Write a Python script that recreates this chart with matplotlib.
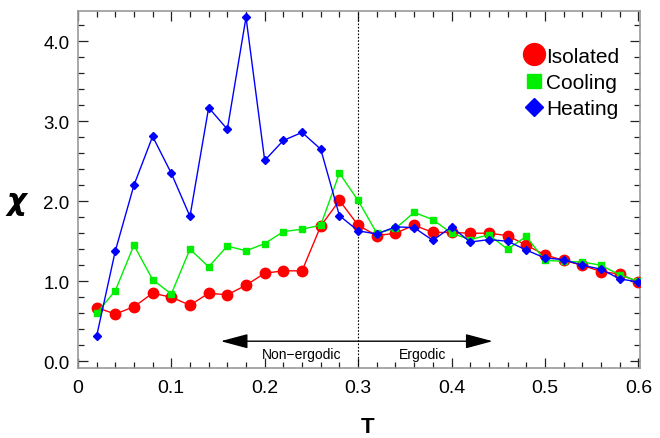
import matplotlib
matplotlib.use("Agg")
import matplotlib.pyplot as plt
from matplotlib.patches import FancyArrowPatch

T = [0.02, 0.04, 0.06, 0.08, 0.10, 0.12, 0.14, 0.16, 0.18, 0.20,
     0.22, 0.24, 0.26, 0.28, 0.30, 0.32, 0.34, 0.36, 0.38, 0.40,
     0.42, 0.44, 0.46, 0.48, 0.50, 0.52, 0.54, 0.56, 0.58, 0.60]

isolated = [0.67, 0.59, 0.68, 0.85, 0.80, 0.70, 0.85, 0.83, 0.95, 1.10,
            1.13, 1.13, 1.69, 2.01, 1.70, 1.57, 1.60, 1.70, 1.61, 1.61,
            1.60, 1.60, 1.57, 1.45, 1.33, 1.26, 1.20, 1.12, 1.09, 0.99]

cooling = [0.60, 0.88, 1.45, 1.02, 0.84, 1.40, 1.18, 1.44, 1.38, 1.47,
           1.62, 1.65, 1.70, 2.35, 2.01, 1.60, 1.66, 1.86, 1.77, 1.60,
           1.52, 1.58, 1.40, 1.56, 1.26, 1.25, 1.24, 1.20, 1.08, 1.00]

heating = [0.31, 1.375, 2.20, 2.81, 2.35, 1.81, 3.17, 2.90, 4.30, 2.51,
           2.76, 2.86, 2.65, 1.82, 1.63, 1.59, 1.68, 1.67, 1.51, 1.68,
           1.49, 1.52, 1.50, 1.39, 1.29, 1.27, 1.20, 1.15, 1.03, 0.99]

xticks = [0, 0.1, 0.2, 0.3, 0.4, 0.5, 0.6]
xticklabels = ["0", "0.1", "0.2", "0.3", "0.4", "0.5", "0.6"]
yticks = [0, 1, 2, 3, 4]
yticklabels = ["0.0", "1.0", "2.0", "3.0", "4.0"]

plt.rcParams['font.family'] = ['Liberation Sans', 'DejaVu Sans']

fig = plt.figure(figsize=(6.6, 4.39), dpi=100)
ax = fig.add_axes([0.118, 0.159, 0.852, 0.814])

ax.plot(T, isolated, '-', color='#ff0000', lw=1.0, marker='o', ms=7.5,
        mec='#ff0000', mfc='#ff0000', label='Isolated', zorder=3)
ax.plot(T, cooling, '-', color='#00ee00', lw=1.0, marker='s', ms=5,
        mec='#00ee00', mfc='#00ee00', label='Cooling', zorder=4)
ax.plot(T, heating, '-', color='#0000ff', lw=1.0, marker='D', ms=4.5,
        mec='#0000ff', mfc='#0000ff', label='Heating', zorder=5)

ax.axvline(0.3, color='black', ls=(0, (1.5, 1.5)), lw=0.8, zorder=2)

arrow = FancyArrowPatch((0.15, 0.25), (0.447, 0.25),
                        arrowstyle='<|-|>,head_length=1.2,head_width=0.32',
                        mutation_scale=14, color='black', lw=1.0, zorder=6)
ax.add_patch(arrow)
ax.text(0.239, 0.09, "Non\u2212ergodic", ha='center', va='center', fontsize=10)
ax.text(0.369, 0.09, "Ergodic", ha='center', va='center', fontsize=10)

ax.set_xlim(0, 0.602)
ax.set_ylim(-0.0875, 4.38)
ax.set_xticks(xticks)
ax.set_xticklabels(xticklabels)
ax.set_yticks(yticks)
ax.set_yticklabels(yticklabels)
ax.set_xticks([i * 0.02 for i in range(31)], minor=True)
ax.set_yticks([i * 0.2 for i in range(22)], minor=True)

ax.tick_params(which='both', direction='in', top=True, right=True, color='#222222')
ax.tick_params(which='major', length=7.5, width=0.9)
ax.tick_params(which='minor', length=4, width=0.9)
ax.tick_params(axis='x', which='major', labelsize=14, pad=8)
ax.tick_params(axis='y', which='major', labelsize=13.5, pad=6)
ax.tick_params(which='both', labeltop=False, labelright=False)

for s in ax.spines.values():
    s.set_color('#999999')
    s.set_linewidth(1.2)

ax.set_xlabel("T", fontsize=16, fontweight='bold')
ax.xaxis.set_label_coords(0.515, -0.135)
ax.set_ylabel("\u03c7", fontsize=22, fontweight='bold', fontstyle='italic',
              rotation=0, va='center', family=['DejaVu Sans'])
ax.yaxis.set_label_coords(-0.11, 0.47)

leg = ax.legend(loc='upper right', bbox_to_anchor=(0.985, 0.935), frameon=False,
                fontsize=15, markerscale=2.1, handlelength=0.6,
                handletextpad=0.3, labelspacing=0.35, borderaxespad=0.2)
for h in leg.legend_handles:
    h.set_linestyle('none')

fig.savefig("out.png", dpi=100)
